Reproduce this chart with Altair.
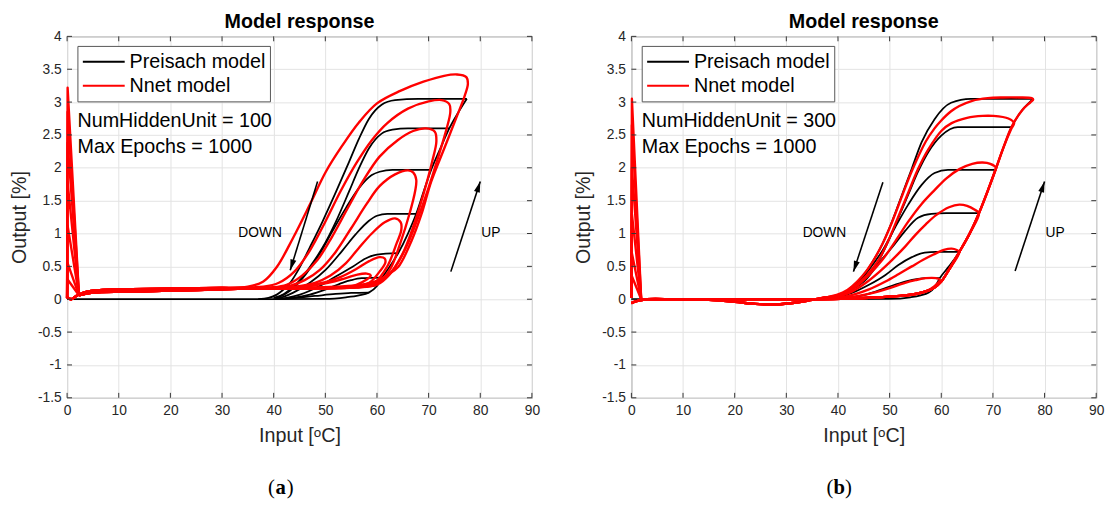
import altair as alt
import pandas as pd

FONT = "Liberation Sans"
PW, PH = 472, 367

x_ticks = [0, 10, 20, 30, 40, 50, 60, 70, 80, 90]
y_ticks = [-1.5, -1, -0.5, 0, 0.5, 1, 1.5, 2, 2.5, 3, 3.5, 4]

# ---------------- Panel (a): Preisach model (black) ----------------
a_pre_up_x = [0, 20, 40, 50, 54, 56.5, 58.4, 60, 61, 62.5, 64.1, 66, 67.6, 69, 70.5, 72.3, 74, 75.8, 77.4]
a_pre_up_y = [0, 0, 0, 0.005, 0.03, 0.06, 0.1, 0.2, 0.33, 0.5, 0.7, 1.0, 1.3, 1.63, 1.97, 2.3, 2.6, 2.85, 3.05]
a_pre_d1_x = [77.4, 68, 63.5, 60.9, 58.4, 56.5, 54.6, 52.1, 49.5, 47, 44.8, 43.2, 41.8, 40.6, 39, 37]
a_pre_d1_y = [3.05, 3.05, 3.03, 2.96, 2.74, 2.44, 2.09, 1.64, 1.19, 0.79, 0.45, 0.25, 0.14, 0.07, 0.02, 0]
a_pre_d2_x = [74, 66, 63, 60.9, 58.4, 56.5, 54.6, 52.1, 49.5, 47, 45.3, 43.8, 42, 40]
a_pre_d2_y = [2.6, 2.6, 2.58, 2.52, 2.29, 1.99, 1.64, 1.19, 0.79, 0.49, 0.31, 0.19, 0.08, 0.02]
a_pre_d3_x = [70.5, 63, 60.5, 59, 56.5, 54, 51.4, 48.9, 46.3, 43.8, 42, 40.5]
a_pre_d3_y = [1.97, 1.97, 1.94, 1.89, 1.69, 1.39, 1.04, 0.69, 0.39, 0.17, 0.07, 0.02]
a_pre_d4_x = [67.6, 62, 60, 58.4, 55.9, 53.3, 50.1, 47, 43.8, 42, 40.5]
a_pre_d4_y = [1.3, 1.3, 1.27, 1.19, 0.99, 0.74, 0.45, 0.25, 0.1, 0.04, 0.01]
a_pre_d5_x = [64.1, 60, 57.8, 55.2, 52.1, 48.9, 45.1, 42.5, 40.5]
a_pre_d5_y = [0.7, 0.68, 0.62, 0.49, 0.35, 0.2, 0.07, 0.02, 0]
a_pre_d6_x = [61, 57, 55, 53.3, 50.1, 47, 43.8, 41]
a_pre_d6_y = [0.33, 0.32, 0.29, 0.25, 0.15, 0.07, 0.02, 0]
a_pre_d7_x = [58.4, 55, 52, 48, 44, 40]
a_pre_d7_y = [0.1, 0.095, 0.08, 0.05, 0.02, 0]

# ---------------- Panel (a): Nnet model (red) ----------------
a_nn_spike = [3.22, 2.85, 2.38, 1.78, 1.12, 0.55, 0.3]
a_nn_foot = [2.3, 0.06]
a_nn_in_x = [2.3, 5, 15, 25, 33]
a_nn_in_y = [0.06, 0.1, 0.12, 0.14, 0.16]
a_nn_out_x = [30, 20, 10, 4, 2, 0.8, 0]
a_nn_out_y = [0.17, 0.16, 0.15, 0.12, 0.06, 0.0, 0.03]
a_nn_l1_x = [40, 45, 52, 57, 60, 62, 64.1, 66.7, 68.6, 70.5, 73, 75.5, 77, 77.6, 77.3, 75.5, 73, 69, 64.5, 60, 56.5, 53.3, 50.1, 47, 43.8, 40.6, 38, 35]
a_nn_l1_y = [0.17, 0.17, 0.19, 0.22, 0.28, 0.37, 0.49, 0.89, 1.29, 1.79, 2.29, 2.79, 3.1, 3.28, 3.38, 3.42, 3.4, 3.31, 3.17, 2.98, 2.69, 2.34, 1.94, 1.44, 0.94, 0.49, 0.27, 0.19]
a_nn_l2_x = [40, 50, 56, 59, 62, 64, 66, 68, 70, 72, 73.5, 74.2, 74, 72.5, 70, 66, 62, 59, 56, 53, 50, 47, 44, 41, 38, 35]
a_nn_l2_y = [0.17, 0.17, 0.18, 0.22, 0.35, 0.55, 0.85, 1.25, 1.7, 2.2, 2.6, 2.85, 2.97, 3.03, 3.01, 2.9, 2.68, 2.42, 2.07, 1.65, 1.18, 0.74, 0.42, 0.25, 0.19, 0.18]
a_nn_l3_x = [40, 50, 56, 60, 62.5, 65, 67, 69, 70.7, 71.5, 71.2, 69.5, 67, 64, 60.5, 57.3, 54.3, 51.3, 48.5, 45.5, 42.5, 39.5, 35]
a_nn_l3_y = [0.17, 0.17, 0.18, 0.22, 0.38, 0.7, 1.1, 1.6, 2.1, 2.4, 2.55, 2.6, 2.56, 2.42, 2.17, 1.8, 1.38, 0.95, 0.6, 0.36, 0.22, 0.18, 0.17]
a_nn_l4_x = [40, 50, 56, 60, 62.5, 64.5, 66.3, 67.4, 67.6, 67, 66, 63.5, 60.5, 58, 55, 52, 49, 46, 43, 39, 35]
a_nn_l4_y = [0.17, 0.17, 0.18, 0.23, 0.45, 0.85, 1.3, 1.65, 1.82, 1.93, 1.96, 1.9, 1.72, 1.45, 1.08, 0.72, 0.45, 0.29, 0.2, 0.17, 0.16]
a_nn_l5_x = [40, 50, 56, 59.5, 62, 63.8, 64.7, 64.6, 63.5, 61.5, 59, 56.5, 54, 51, 48, 44, 40, 35]
a_nn_l5_y = [0.17, 0.17, 0.18, 0.25, 0.5, 0.85, 1.05, 1.17, 1.23, 1.17, 1.0, 0.78, 0.55, 0.36, 0.25, 0.19, 0.17, 0.16]
a_nn_l6_x = [40, 50, 55, 58.5, 60.5, 61.6, 61.5, 60.5, 58.5, 56, 53, 50, 46, 42, 35]
a_nn_l6_y = [0.17, 0.17, 0.18, 0.25, 0.42, 0.55, 0.62, 0.64, 0.58, 0.46, 0.34, 0.26, 0.2, 0.17, 0.16]
a_nn_l7_x = [40, 48, 52, 56, 58, 58.8, 58, 56, 53, 50, 46, 42, 35]
a_nn_l7_y = [0.16, 0.16, 0.17, 0.22, 0.3, 0.36, 0.39, 0.37, 0.3, 0.24, 0.19, 0.17, 0.16]

# ---------------- Panel (b): Preisach model (black) ----------------
b_pre_up_x = [0, 20, 40, 50, 54, 56, 57.5, 58.7, 59.7, 61.5, 63.5, 65.5, 67.3, 69, 70.5, 72, 73.6, 75.7, 77.8]
b_pre_up_y = [0, 0, 0, 0.005, 0.03, 0.06, 0.1, 0.18, 0.32, 0.5, 0.72, 1.0, 1.31, 1.65, 1.97, 2.3, 2.62, 2.88, 3.05]
b_pre_d1_x = [77.8, 70, 65.7, 61.9, 58.7, 56.2, 54.3, 52.4, 50.5, 48.6, 46.7, 44.8, 42.8, 40.9, 39, 37]
b_pre_d1_y = [3.05, 3.05, 3.05, 2.99, 2.74, 2.39, 1.99, 1.59, 1.19, 0.84, 0.57, 0.35, 0.2, 0.07, 0.02, 0]
b_pre_d2_x = [73.6, 66, 63.2, 60, 57.5, 55.5, 53.6, 51.7, 49.8, 47.9, 45.4, 42.8, 40.5]
b_pre_d2_y = [2.62, 2.62, 2.62, 2.49, 2.24, 1.94, 1.59, 1.24, 0.89, 0.59, 0.35, 0.17, 0.05]
b_pre_d3_x = [70.5, 64, 61.3, 58.7, 56.2, 53.6, 51.1, 48.6, 46, 43.5, 41.6, 40]
b_pre_d3_y = [1.97, 1.97, 1.97, 1.92, 1.74, 1.44, 1.1, 0.74, 0.45, 0.22, 0.1, 0.04]
b_pre_d4_x = [67.3, 61, 58.1, 55.5, 53, 50.5, 47.9, 45.4, 42.8, 40.5]
b_pre_d4_y = [1.31, 1.31, 1.3, 1.24, 1.04, 0.79, 0.55, 0.3, 0.15, 0.05]
b_pre_d5_x = [63.5, 59, 56.8, 54.3, 51.7, 49.2, 46, 42.8, 40.5]
b_pre_d5_y = [0.72, 0.72, 0.71, 0.64, 0.52, 0.37, 0.22, 0.1, 0.04]
b_pre_d6_x = [59.7, 57, 55.5, 53, 49.2, 45.4, 42.2, 40]
b_pre_d6_y = [0.32, 0.32, 0.31, 0.27, 0.17, 0.07, 0.02, 0]

# ---------------- Panel (b): Nnet model (red) ----------------
b_nn_spike = [3.05, 2.65, 2.0, 1.3, 0.7, 0.35]
b_nn_foot = [1.9, 0.0]
b_nn_in_x = [1.9, 5, 15, 25, 32]
b_nn_in_y = [0.0, 0.0, 0.0, 0.0, 0.0]
b_nn_out_x = [38, 35, 32, 28, 24, 20, 15, 8, 3, 1, 0]
b_nn_out_y = [0.03, -0.01, -0.05, -0.08, -0.07, -0.04, -0.01, 0, 0, -0.03, -0.06]
b_nn_l1_x = [36, 42, 48, 52, 55, 57, 58.7, 60, 61.5, 63.5, 65.5, 67.3, 69, 70.5, 72, 73.6, 75.7, 77.3, 77.8, 77.5, 75, 72, 69, 66, 63.5, 61.9, 60, 58.7, 57, 54.3, 52.4, 50.5, 48.6, 46.7, 44.8, 42.8, 40.9]
b_nn_l1_y = [0, 0.01, 0.03, 0.05, 0.08, 0.12, 0.18, 0.27, 0.45, 0.72, 1.0, 1.31, 1.65, 1.97, 2.3, 2.62, 2.88, 3.0, 3.04, 3.06, 3.07, 3.07, 3.06, 3.02, 2.94, 2.86, 2.72, 2.6, 2.4, 1.95, 1.57, 1.18, 0.84, 0.57, 0.36, 0.2, 0.1]
b_nn_l2_x = [36, 42, 48, 52, 55, 57, 58.7, 60, 61.5, 63.5, 65.5, 67.3, 69, 70.5, 72, 73.6, 74.1, 73, 70, 68, 65, 62, 60, 57.5, 55.5, 53.6, 51.7, 49.8, 47.9, 45.4, 42.8, 40.5]
b_nn_l2_y = [0, 0.01, 0.03, 0.05, 0.08, 0.12, 0.18, 0.27, 0.45, 0.72, 1.0, 1.31, 1.65, 1.97, 2.3, 2.6, 2.68, 2.75, 2.79, 2.79, 2.76, 2.68, 2.56, 2.28, 1.98, 1.62, 1.26, 0.9, 0.6, 0.35, 0.17, 0.07]
b_nn_l3_x = [36, 42, 48, 52, 55, 57, 58.7, 60, 61.5, 63.5, 65.5, 67.3, 69, 70.5, 70.6, 69.5, 68, 66, 63.5, 61, 58.7, 56.2, 53.6, 51.1, 48.6, 46, 43.5, 41.3]
b_nn_l3_y = [0, 0.01, 0.03, 0.05, 0.08, 0.12, 0.18, 0.27, 0.45, 0.72, 1.0, 1.31, 1.65, 1.97, 2.0, 2.06, 2.08, 2.06, 1.98, 1.84, 1.66, 1.45, 1.18, 0.88, 0.6, 0.37, 0.19, 0.08]
b_nn_l4_x = [36, 42, 48, 52, 55, 57, 58.7, 60, 61.5, 63.5, 65.5, 67.3, 66.5, 65, 63.5, 61.5, 59, 57, 55, 53, 50.5, 47.9, 45.4, 42.8, 40.5]
b_nn_l4_y = [0, 0.01, 0.03, 0.05, 0.08, 0.12, 0.18, 0.27, 0.45, 0.72, 1.0, 1.31, 1.36, 1.42, 1.44, 1.4, 1.28, 1.14, 0.98, 0.8, 0.6, 0.41, 0.25, 0.12, 0.05]
b_nn_l5_x = [36, 42, 48, 52, 55, 57, 58.7, 60, 61.5, 63.5, 63, 62, 60.5, 58.5, 56.5, 54.3, 51.7, 49.2, 46, 43, 40.5]
b_nn_l5_y = [0, 0.01, 0.03, 0.05, 0.08, 0.12, 0.18, 0.27, 0.45, 0.72, 0.75, 0.77, 0.75, 0.68, 0.6, 0.5, 0.38, 0.27, 0.15, 0.07, 0.03]
b_nn_l6_x = [36, 42, 48, 52, 55, 57, 58.7, 59.7, 59, 57, 55, 53, 50, 47, 44, 41]
b_nn_l6_y = [0, 0.01, 0.03, 0.05, 0.08, 0.12, 0.2, 0.3, 0.32, 0.32, 0.29, 0.25, 0.17, 0.1, 0.05, 0.02]

# ---------------- annotations ----------------
panel_title = "Model response"
legend_labels = ["Preisach model", "Nnet model"]
legend_colors = ["#000000", "#ff0000"]
a_info = ["NumHiddenUnit = 100", "Max Epochs = 1000"]
b_info = ["NumHiddenUnit = 300", "Max Epochs = 1000"]
ud_text = ["DOWN", "UP"]
ud_x = [41.6, 80.2]
ud_y = [1.01, 1.01]
a_arrow_x = [48.5, 74.3]
a_arrow_y = [1.79, 0.42]
a_arrow_x2 = [43.2, 80.0]
a_arrow_y2 = [0.44, 1.79]
b_arrow_x = [48.7, 74.3]
b_arrow_y = [1.78, 0.43]
b_arrow_x2 = [43.0, 80.0]
b_arrow_y2 = [0.42, 1.79]
a_arrow_ang = [197.1, 18.1]
b_arrow_ang = [198.2, 18.1]


def path_df(paths):
    rows = []
    for pid, (xs, ys) in enumerate(paths):
        for i, (xv, yv) in enumerate(zip(xs, ys)):
            rows.append({"pid": pid, "i": i, "x": xv, "y": yv})
    return pd.DataFrame(rows)


def nn_paths(in_x, in_y, loops, out_x, out_y):
    return [(in_x + lx + out_x, in_y + ly + out_y) for (lx, ly) in loops]


def spike_paths(spikes, foot):
    return [([0.0, 0.1, foot[0]], [0.02, s, foot[1]]) for s in spikes]


X_SCALE = alt.Scale(domain=[0, 90], nice=False, zero=False)
Y_SCALE = alt.Scale(domain=[-1.5, 4], nice=False, zero=False)
XAX = alt.Axis(values=x_ticks, title="Input [ᵒC]", labelExpr="'' + datum.value",
               labelFlush=False, ticks=False, tickSize=0, domain=False, grid=True)
YAX = alt.Axis(values=y_ticks, title="Output [%]", labelExpr="'' + datum.value",
               labelFlush=False, ticks=False, tickSize=0, domain=False, grid=True)


def XE(field):
    return alt.X(field, type="quantitative", scale=X_SCALE, axis=XAX)


def YE(field):
    return alt.Y(field, type="quantitative", scale=Y_SCALE, axis=YAX)


def txt(text, x, y, size=20, weight="normal", align="left", font=FONT):
    one = pd.DataFrame({"k": [0]})
    return alt.Chart(one).mark_text(
        font=font, fontSize=size, fontWeight=weight, align=align, baseline="middle",
        color="#000000", text=text
    ).encode(x=alt.value(x), y=alt.value(y))


def panel(pre_paths, red_paths, spikes, arrow_x, arrow_y, arrow_x2, arrow_y2, arrow_ang, info, cap, cap_x):
    black = alt.Chart(path_df(pre_paths)).mark_line(
        color="#000000", strokeWidth=1.8, strokeJoin="round", interpolate="monotone"
    ).encode(x=XE("x"), y=YE("y"), detail="pid:N", order="i:Q")
    red = alt.Chart(path_df(red_paths)).mark_line(
        color="#ff0000", strokeWidth=2.4, strokeJoin="round", interpolate="catmull-rom"
    ).encode(x=XE("x"), y=YE("y"), detail="pid:N", order="i:Q")
    red_sp = alt.Chart(path_df(spikes)).mark_line(
        color="#ff0000", strokeWidth=2.4, strokeJoin="round", interpolate="linear"
    ).encode(x=XE("x"), y=YE("y"), detail="pid:N", order="i:Q")

    arr_df = pd.DataFrame({"x": arrow_x, "y": arrow_y, "x2": arrow_x2, "y2": arrow_y2})
    arrows = alt.Chart(arr_df).mark_rule(color="#000000", strokeWidth=1.6).encode(
        x=XE("x"), y=YE("y"), x2="x2:Q", y2="y2:Q")
    head_df = pd.DataFrame({"x": arrow_x2, "y": arrow_y2, "ang": arrow_ang})
    heads = alt.Chart(head_df).mark_point(
        shape="M0,0L-0.28,1L0.28,1Z", filled=True, color="#000000", opacity=1, size=484
    ).encode(x=XE("x"), y=YE("y"), angle=alt.Angle("ang:Q", scale=None))

    down_df = pd.DataFrame({"t": [ud_text[0]], "x": [ud_x[0]], "y": [ud_y[0]]})
    up_df = pd.DataFrame({"t": [ud_text[1]], "x": [ud_x[1]], "y": [ud_y[1]]})
    ud_down = alt.Chart(down_df).mark_text(
        font=FONT, fontSize=14, align="right", baseline="middle", color="#000000"
    ).encode(x=XE("x"), y=YE("y"), text="t:N")
    ud_up = alt.Chart(up_df).mark_text(
        font=FONT, fontSize=14, align="left", baseline="middle", color="#000000"
    ).encode(x=XE("x"), y=YE("y"), text="t:N")

    one = pd.DataFrame({"k": [0]})
    leg_box = alt.Chart(one).mark_rect(fill="#ffffff", stroke="#555555", strokeWidth=1).encode(
        x=alt.value(11), x2=alt.value(206.5), y=alt.value(10.2), y2=alt.value(66.5))
    leg_l1 = alt.Chart(one).mark_rule(strokeWidth=2, color=legend_colors[0]).encode(
        x=alt.value(16), x2=alt.value(58.5), y=alt.value(25.8))
    leg_l2 = alt.Chart(one).mark_rule(strokeWidth=2, color=legend_colors[1]).encode(
        x=alt.value(16), x2=alt.value(58.5), y=alt.value(50.2))
    leg_t1 = txt(legend_labels[0], 63.5, 26)
    leg_t2 = txt(legend_labels[1], 63.5, 50.4)
    info_t1 = txt(info[0], 10.6, 86.5)
    info_t2 = txt(info[1], 10.6, 112.5)
    title_t = txt(panel_title, PW / 2, -14.5, size=20, weight="bold", align="center")

    cap_l = txt("(", cap_x - 6, 458.5, size=21, align="right", font="Liberation Serif")
    cap_m = txt(cap, cap_x, 458.5, size=21, weight="bold", align="center", font="Liberation Serif")
    cap_r = txt(")", cap_x + 6, 458.5, size=21, align="left", font="Liberation Serif")

    xt_df = pd.DataFrame({"x": x_ticks})
    yt_df = pd.DataFrame({"y": y_ticks})
    xt_bot = alt.Chart(xt_df).mark_rule(color="#333333", strokeWidth=1).encode(
        x=XE("x"), y=alt.value(PH), y2=alt.value(PH - 5))
    xt_top = alt.Chart(xt_df).mark_rule(color="#333333", strokeWidth=1).encode(
        x=XE("x"), y=alt.value(0), y2=alt.value(5))
    yt_l = alt.Chart(yt_df).mark_rule(color="#333333", strokeWidth=1).encode(
        y=YE("y"), x=alt.value(0), x2=alt.value(5))
    yt_r = alt.Chart(yt_df).mark_rule(color="#333333", strokeWidth=1).encode(
        y=YE("y"), x=alt.value(PW), x2=alt.value(PW - 5))

    return alt.layer(
        black, red, red_sp, arrows, heads, ud_down, ud_up, leg_box, leg_l1, leg_l2, leg_t1, leg_t2,
        info_t1, info_t2, xt_bot, xt_top, yt_l, yt_r, title_t, cap_l, cap_m, cap_r,
    ).properties(width=PW, height=PH)


pa = panel(
    [(a_pre_up_x, a_pre_up_y), (a_pre_d1_x, a_pre_d1_y), (a_pre_d2_x, a_pre_d2_y), (a_pre_d3_x, a_pre_d3_y),
     (a_pre_d4_x, a_pre_d4_y), (a_pre_d5_x, a_pre_d5_y), (a_pre_d6_x, a_pre_d6_y), (a_pre_d7_x, a_pre_d7_y)],
    nn_paths(a_nn_in_x, a_nn_in_y,
             [(a_nn_l1_x, a_nn_l1_y), (a_nn_l2_x, a_nn_l2_y), (a_nn_l3_x, a_nn_l3_y), (a_nn_l4_x, a_nn_l4_y),
              (a_nn_l5_x, a_nn_l5_y), (a_nn_l6_x, a_nn_l6_y), (a_nn_l7_x, a_nn_l7_y)],
             a_nn_out_x, a_nn_out_y),
    spike_paths(a_nn_spike, a_nn_foot),
    a_arrow_x, a_arrow_y, a_arrow_x2, a_arrow_y2, a_arrow_ang, a_info, "a", 217,
)
pb = panel(
    [(b_pre_up_x, b_pre_up_y), (b_pre_d1_x, b_pre_d1_y), (b_pre_d2_x, b_pre_d2_y), (b_pre_d3_x, b_pre_d3_y),
     (b_pre_d4_x, b_pre_d4_y), (b_pre_d5_x, b_pre_d5_y), (b_pre_d6_x, b_pre_d6_y)],
    nn_paths(b_nn_in_x, b_nn_in_y,
             [(b_nn_l1_x, b_nn_l1_y), (b_nn_l2_x, b_nn_l2_y), (b_nn_l3_x, b_nn_l3_y), (b_nn_l4_x, b_nn_l4_y),
              (b_nn_l5_x, b_nn_l5_y), (b_nn_l6_x, b_nn_l6_y)],
             b_nn_out_x, b_nn_out_y),
    spike_paths(b_nn_spike, b_nn_foot),
    b_arrow_x, b_arrow_y, b_arrow_x2, b_arrow_y2, b_arrow_ang, b_info, "b", 211,
)

chart = alt.hconcat(pa, pb, spacing=33).properties(
    padding={"left": 1, "top": 0, "right": 5, "bottom": 0}
).configure_view(
    stroke="#7a7a7a", strokeWidth=1
).configure_axis(
    labelFont=FONT, labelFontSize=14, labelColor="#262626", labelPadding=6,
    titleFont=FONT, titleFontSize=20, titleFontWeight="normal", titleColor="#262626", titlePadding=8,
    gridColor="#e3e3e3", gridWidth=1,
)

chart.save("out.html", embed_options={"renderer": "svg", "actions": False})
